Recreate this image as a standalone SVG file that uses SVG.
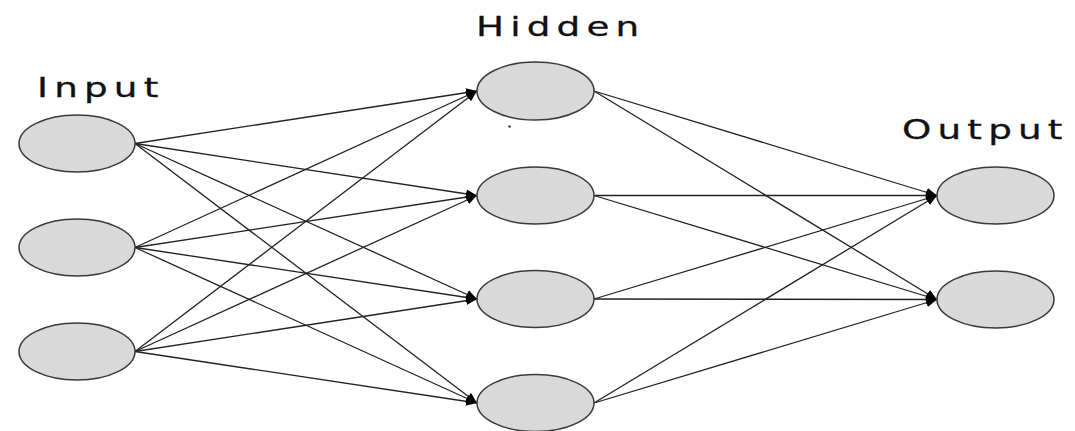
<svg xmlns="http://www.w3.org/2000/svg" width="1075" height="431" viewBox="0 0 1075 431">
<style>
.node{fill:#d9d9d9;stroke:#3a3a3a;stroke-width:1.5}
.edge{stroke:#222;stroke-width:1.3;fill:none;marker-end:url(#arr)}
.lbl{font-family:"DejaVu Sans",sans-serif;font-size:27px;letter-spacing:4.5px;fill:#111;stroke:#111;stroke-width:0.3}
</style>
<defs>
<marker id="arr" markerUnits="userSpaceOnUse" markerWidth="12" markerHeight="10" refX="11" refY="5" orient="auto">
<path d="M0,0.5 L11,5 L0,9.5 Z" fill="#000"/>
</marker>
</defs>
<rect width="1075" height="431" fill="#fff"/>
<g id="connectors">
<line class="edge" x1="135" y1="143.5" x2="477" y2="91"/>
<line class="edge" x1="135" y1="143.5" x2="477" y2="195.5"/>
<line class="edge" x1="135" y1="143.5" x2="477" y2="299"/>
<line class="edge" x1="135" y1="143.5" x2="477" y2="403"/>
<line class="edge" x1="135" y1="247.5" x2="477" y2="91"/>
<line class="edge" x1="135" y1="247.5" x2="477" y2="195.5"/>
<line class="edge" x1="135" y1="247.5" x2="477" y2="299"/>
<line class="edge" x1="135" y1="247.5" x2="477" y2="403"/>
<line class="edge" x1="135" y1="351.5" x2="477" y2="91"/>
<line class="edge" x1="135" y1="351.5" x2="477" y2="195.5"/>
<line class="edge" x1="135" y1="351.5" x2="477" y2="299"/>
<line class="edge" x1="135" y1="351.5" x2="477" y2="403"/>
<line class="edge" x1="594" y1="91" x2="937" y2="195.5"/>
<line class="edge" x1="594" y1="91" x2="937" y2="299.5"/>
<line class="edge" x1="594" y1="195.5" x2="937" y2="195.5"/>
<line class="edge" x1="594" y1="195.5" x2="937" y2="299.5"/>
<line class="edge" x1="594" y1="299" x2="937" y2="195.5"/>
<line class="edge" x1="594" y1="299" x2="937" y2="299.5"/>
<line class="edge" x1="594" y1="403" x2="937" y2="195.5"/>
<line class="edge" x1="594" y1="403" x2="937" y2="299.5"/>
</g>
<g id="input1"><ellipse class="node" cx="77" cy="143.5" rx="58" ry="28.5"/></g>
<g id="input2"><ellipse class="node" cx="77" cy="247.5" rx="58" ry="28.5"/></g>
<g id="input3"><ellipse class="node" cx="77" cy="351.5" rx="58" ry="28.5"/></g>
<g id="hidden1"><ellipse class="node" cx="535.5" cy="91" rx="58.5" ry="29"/></g>
<g id="hidden2"><ellipse class="node" cx="535.5" cy="195.5" rx="58.5" ry="28.5"/></g>
<g id="hidden3"><ellipse class="node" cx="535.5" cy="299" rx="58.5" ry="28.5"/></g>
<g id="hidden4"><ellipse class="node" cx="535.5" cy="403" rx="58.5" ry="28.5"/></g>
<g id="output1"><ellipse class="node" cx="995.5" cy="195.5" rx="58.5" ry="28.5"/></g>
<g id="output2"><ellipse class="node" cx="995.5" cy="299.5" rx="58.5" ry="28.5"/></g>
<circle cx="509.5" cy="126.5" r="1.2" fill="#333"/>
<g id="labels">
<text class="lbl" transform="translate(37,97) scale(1.38,1)">Input</text>
<text class="lbl" transform="translate(476,36) scale(1.38,1)">Hidden</text>
<text class="lbl" transform="translate(902,139) scale(1.38,1)">Output</text>
</g>
</svg>
